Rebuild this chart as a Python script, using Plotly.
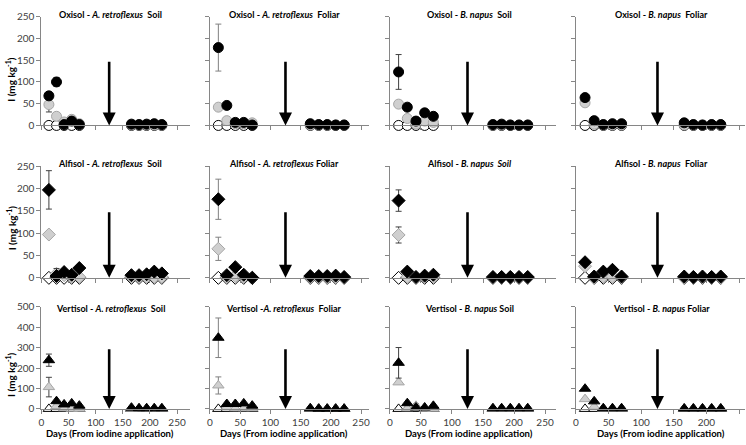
import plotly.graph_objects as go

W, H = 746, 445

days = [14, 28, 42, 56, 70, 166, 180, 194, 208, 222]
x_ticks = [0, 50, 100, 150, 200, 250]

# ---- Oxisol (row 1) ----
ox_ars_black = [68, 100, 2, 10, 2, 3, 2, 3, 4, 2]
ox_ars_black_err = [8, 10, 0, 3, 0, 0, 0, 0, 0, 0]
ox_ars_grey = [48, 21, 8, 14, 4, 1, 1, 1, 1, 1]
ox_ars_grey_err = [17, 0, 0, 0, 0, 0, 0, 0, 0, 0]
ox_ars_open = [0, 0, 0, 0, 0, 0, 0, 0, 0, 0]

ox_arf_black = [179, 46, 7, 7, 1, 4, 2, 2, 1, 1]
ox_arf_black_err = [54, 5, 0, 0, 0, 0, 0, 0, 0, 0]
ox_arf_grey = [42, 11, 4, 4, 6, 1, 1, 1, 1, 1]
ox_arf_grey_err = [7, 0, 0, 0, 0, 0, 0, 0, 0, 0]
ox_arf_open = [0, 0, 0, 0, 0, 0, 0, 0, 0, 0]

ox_bns_black = [123, 42, 10, 29, 21, 2, 3, 1, 1, 1]
ox_bns_black_err = [40, 0, 0, 0, 0, 0, 0, 0, 0, 0]
ox_bns_grey = [49, 16, 3, 10, 7, 1, 1, 1, 1, 1]
ox_bns_grey_err = [4, 0, 0, 0, 0, 0, 0, 0, 0, 0]
ox_bns_open = [0, 0, 0, 0, 0, 0, 0, 0, 0, 0]

ox_bnf_black = [64, 11, 2, 4, 4, 6, 2, 1, 2, 2]
ox_bnf_black_err = [0, 0, 0, 0, 0, 0, 0, 0, 0, 0]
ox_bnf_grey = [52, 3, 1, 1, 1, 1, 1, 1, 1, 1]
ox_bnf_grey_err = [0, 0, 0, 0, 0, 0, 0, 0, 0, 0]
ox_bnf_open = [0, 0, 0, 0, 0, 0, 0, 0, 0, 0]

# ---- Alfisol (row 2) ----
al_ars_black = [197, 4, 13, 7, 22, 6, 6, 8, 14, 10]
al_ars_black_err = [43, 17, 0, 0, 0, 0, 0, 0, 0, 0]
al_ars_grey = [97, 9, 6, 2, 2, 2, 2, 2, 2, 2]
al_ars_grey_err = [5, 0, 0, 0, 0, 0, 0, 0, 0, 0]
al_ars_open = [0, 0, 0, 0, 0, 0, 0, 0, 0, 0]

al_arf_black = [176, 6, 24, 7, 0, 4, 4, 4, 5, 2]
al_arf_black_err = [45, 0, 0, 0, 0, 0, 0, 0, 0, 0]
al_arf_grey = [65, 2, 4, 2, 1, 1, 1, 1, 1, 1]
al_arf_grey_err = [26, 0, 0, 0, 0, 0, 0, 0, 0, 0]
al_arf_open = [0, 0, 0, 0, 0, 0, 0, 0, 0, 0]

al_bns_black = [173, 14, 2, 5, 7, 2, 2, 2, 2, 2]
al_bns_black_err = [24, 0, 0, 0, 0, 0, 0, 0, 0, 0]
al_bns_grey = [96, 2, 1, 2, 2, 1, 1, 1, 1, 1]
al_bns_grey_err = [18, 0, 0, 0, 0, 0, 0, 0, 0, 0]
al_bns_open = [0, 0, 0, 0, 0, 0, 0, 0, 0, 0]

al_bnf_black = [35, 3, 14, 18, 3, 3, 2, 3, 2, 3]
al_bnf_black_err = [6, 0, 0, 0, 0, 0, 0, 0, 0, 0]
al_bnf_grey = [26, 1, 3, 3, 1, 1, 1, 1, 1, 1]
al_bnf_grey_err = [0, 0, 0, 0, 0, 0, 0, 0, 0, 0]
al_bnf_open = [0, 0, 0, 0, 0, 0, 0, 0, 0, 0]

# ---- Vertisol (row 3) ----
ve_ars_black = [239, 38, 22, 27, 16, 6, 3, 3, 3, 3]
ve_ars_black_err = [30, 0, 0, 0, 0, 0, 0, 0, 0, 0]
ve_ars_grey = [107, 14, 3, 1, 1, 1, 1, 1, 1, 1]
ve_ars_grey_err = [48, 0, 0, 0, 0, 0, 0, 0, 0, 0]
ve_ars_open = [0, 0, 0, 0, 0, 0, 0, 0, 0, 0]

ve_arf_black = [349, 24, 24, 27, 16, 3, 1, 1, 1, 1]
ve_arf_black_err = [97, 0, 0, 0, 0, 0, 0, 0, 0, 0]
ve_arf_grey = [115, 8, 3, 3, 3, 1, 1, 1, 1, 1]
ve_arf_grey_err = [42, 0, 0, 0, 0, 0, 0, 0, 0, 0]
ve_arf_open = [0, 0, 0, 0, 0, 0, 0, 0, 0, 0]

ve_bns_black = [226, 28, 7, 7, 15, 3, 3, 3, 3, 3]
ve_bns_black_err = [75, 0, 0, 0, 0, 0, 0, 0, 0, 0]
ve_bns_grey = [130, 3, 15, 1, 1, 1, 1, 1, 1, 1]
ve_bns_grey_err = [0, 0, 10, 0, 0, 0, 0, 0, 0, 0]
ve_bns_open = [0, 0, 0, 0, 0, 0, 0, 0, 0, 0]

ve_bnf_black = [99, 37, 3, 3, 3, 2, 2, 2, 2, 2]
ve_bnf_black_err = [0, 0, 0, 0, 0, 0, 0, 0, 0, 0]
ve_bnf_grey = [48, 11, 1, 1, 1, 1, 1, 1, 1, 1]
ve_bnf_grey_err = [0, 0, 0, 0, 0, 0, 0, 0, 0, 0]
ve_bnf_open = [0, 0, 0, 0, 0, 0, 0, 0, 0, 0]

titles = [
    ["Oxisol - <i>A. retroflexus</i>  Soil", "Oxisol - <i>A. retroflexus</i>  Foliar",
     "Oxisol - <i>B. napus</i>  Soil", "Oxisol - <i>B. napus</i>  Foliar"],
    ["Alfisol - <i>A. retroflexus</i>  Soil", "Alfisol - <i>A. retroflexus</i> Foliar",
     "Alfisol - <i>B. napus  Soil</i>", "Alfisol - <i>B. napus</i>  Foliar"],
    ["Vertisol - <i>A. retroflexus</i>  Soil", "Vertisol -<i>A. retroflexus</i>  Foliar",
     "Vertisol - <i>B. napus</i> Soil", "Vertisol - <i>B. napus</i> Foliar"],
]

panels = [
    [(ox_ars_black, ox_ars_black_err, ox_ars_grey, ox_ars_grey_err, ox_ars_open),
     (ox_arf_black, ox_arf_black_err, ox_arf_grey, ox_arf_grey_err, ox_arf_open),
     (ox_bns_black, ox_bns_black_err, ox_bns_grey, ox_bns_grey_err, ox_bns_open),
     (ox_bnf_black, ox_bnf_black_err, ox_bnf_grey, ox_bnf_grey_err, ox_bnf_open)],
    [(al_ars_black, al_ars_black_err, al_ars_grey, al_ars_grey_err, al_ars_open),
     (al_arf_black, al_arf_black_err, al_arf_grey, al_arf_grey_err, al_arf_open),
     (al_bns_black, al_bns_black_err, al_bns_grey, al_bns_grey_err, al_bns_open),
     (al_bnf_black, al_bnf_black_err, al_bnf_grey, al_bnf_grey_err, al_bnf_open)],
    [(ve_ars_black, ve_ars_black_err, ve_ars_grey, ve_ars_grey_err, ve_ars_open),
     (ve_arf_black, ve_arf_black_err, ve_arf_grey, ve_arf_grey_err, ve_arf_open),
     (ve_bns_black, ve_bns_black_err, ve_bns_grey, ve_bns_grey_err, ve_bns_open),
     (ve_bnf_black, ve_bnf_black_err, ve_bnf_grey, ve_bnf_grey_err, ve_bnf_open)],
]

row_symbols = ["circle", "diamond", "triangle-up"]
row_ymax = [250, 250, 500]
row_ydtick = [50, 50, 100]
arrow_top = [150, 150, 300]

# geometry in pixels
col_x0 = [38.5, 208, 389, 576]
col_x250 = [175, 360, 545, 740]
col_xend = [188, 368, 556, 746]
row_y0 = [122, 279, 414]
row_ytop = [10, 164, 309]
title_x = [108, 283, 469, 662]
title_y = [8, 161, 311]
ylab_y = [75, 228, 379]
xlab_y = 439

FONT = "Lato"
fig = go.Figure()
annotations = []
idx = 0
for r in range(3):
    for c in range(4):
        idx += 1
        xa = "x" if idx == 1 else f"x{idx}"
        ya = "y" if idx == 1 else f"y{idx}"
        black, black_err, grey, grey_err, opn = panels[r][c]
        sym = row_symbols[r]
        msize = 10
        errcol = "#808080" if c == 1 else "#404040"
        fig.add_trace(go.Scatter(
            x=days, y=opn, mode="markers", xaxis=xa, yaxis=ya, cliponaxis=False,
            marker=dict(symbol=sym, size=msize, color="white", line=dict(color="black", width=1)),
            showlegend=False))
        fig.add_trace(go.Scatter(
            x=days, y=grey, mode="markers", xaxis=xa, yaxis=ya, cliponaxis=False,
            error_y=dict(type="data", array=grey_err, color=errcol, thickness=1, width=3),
            marker=dict(symbol=sym, size=msize, color="#cfcfcf", line=dict(color="#a6a6a6", width=1)),
            showlegend=False))
        fig.add_trace(go.Scatter(
            x=days, y=black, mode="markers", xaxis=xa, yaxis=ya, cliponaxis=False,
            error_y=dict(type="data", array=black_err, color=errcol, thickness=1, width=3),
            marker=dict(symbol=sym, size=msize, color="black", line=dict(color="black", width=1)),
            showlegend=False))

        s = (col_x250[c] - col_x0[c]) / 250.0
        xmax = (col_xend[c] - col_x0[c]) / s
        xkey = "xaxis" if idx == 1 else f"xaxis{idx}"
        ykey = "yaxis" if idx == 1 else f"yaxis{idx}"
        fig.layout[xkey] = dict(
            domain=[col_x0[c] / W, min(col_xend[c] / W, 1)], range=[0, xmax],
            anchor=ya, tickvals=x_ticks, showticklabels=(r == 2),
            ticks="outside", ticklen=4, tickcolor="#868686",
            showline=True, linecolor="#868686", linewidth=1, showgrid=False, zeroline=False,
            tickfont=dict(family=FONT, size=10, color="#404040"))
        fig.layout[ykey] = dict(
            domain=[1 - row_y0[r] / H, 1 - row_ytop[r] / H], range=[0, row_ymax[r]],
            anchor=xa, dtick=row_ydtick[r], tick0=0, showticklabels=(c == 0),
            ticks="outside", ticklen=4, tickcolor="#868686",
            showline=True, linecolor="#868686", linewidth=1, showgrid=False, zeroline=False,
            tickfont=dict(family=FONT, size=10, color="#404040"))

        # arrow marking the time of the second application
        annotations.append(dict(
            x=125, y=0, ax=125, ay=arrow_top[r], xref=xa, yref=ya, axref=xa, ayref=ya,
            text="", showarrow=True, arrowhead=2, arrowsize=1.0, arrowwidth=2.6,
            arrowcolor="black"))
        annotations.append(dict(
            x=title_x[c] / W, y=1 - title_y[r] / H, xref="paper", yref="paper",
            text="<b>" + titles[r][c] + "</b>", showarrow=False,
            font=dict(family=FONT, size=9, color="black"),
            xanchor="center", yanchor="middle"))
        if r == 2:
            annotations.append(dict(
                x=title_x[c] / W, y=1 - xlab_y / H, xref="paper", yref="paper",
                text="<b>Days (From iodine application)</b>", showarrow=False,
                font=dict(family=FONT, size=9.5, color="black"),
                xanchor="center", yanchor="middle"))
    annotations.append(dict(
        x=8 / W, y=1 - ylab_y[r] / H, xref="paper", yref="paper",
        text="<b>I (mg kg<sup>-1</sup>)</b>", showarrow=False, textangle=-90,
        font=dict(family=FONT, size=10, color="black"),
        xanchor="center", yanchor="middle"))

fig.update_layout(
    width=W, height=H, margin=dict(l=0, r=0, t=0, b=0),
    paper_bgcolor="white", plot_bgcolor="white",
    annotations=annotations, showlegend=False)

fig.write_html("out.html", config={"displayModeBar": False},
               post_script="document.body.style.margin='0px';")
